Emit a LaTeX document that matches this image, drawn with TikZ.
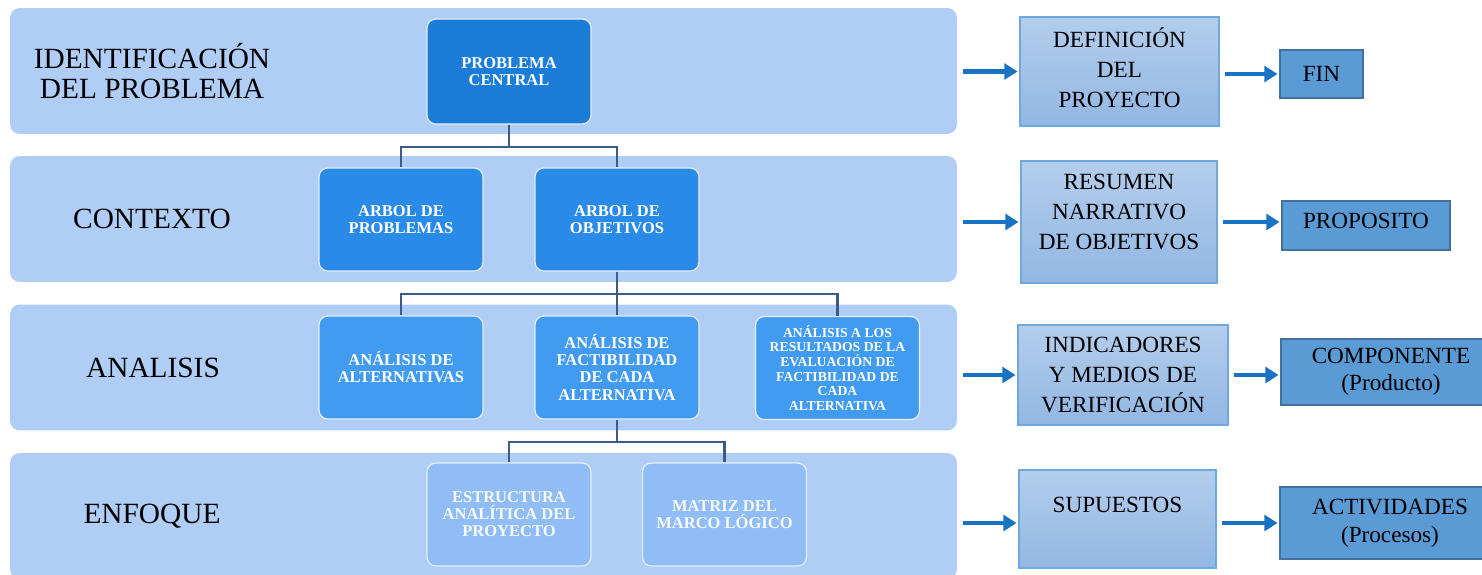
\documentclass[tikz,border=0pt]{standalone}
\usepackage{fontspec}
\setmainfont{Liberation Serif}
\usepackage{tikz}
\usetikzlibrary{arrows.meta,positioning,calc}
\definecolor{clBand}{HTML}{AFCDF5}
\definecolor{clRoot}{HTML}{1B7DD8}
\definecolor{clTree}{HTML}{2A8AE8}
\definecolor{clStudy}{HTML}{419BF0}
\definecolor{clFocus}{HTML}{90BDF5}
\definecolor{clLink}{HTML}{3C5A8A}
\definecolor{clNoteTop}{HTML}{B4CDEC}
\definecolor{clNoteBot}{HTML}{92B7E3}
\definecolor{clNoteLine}{HTML}{6FA8DC}
\definecolor{clGoal}{HTML}{5B9BD5}
\definecolor{clGoalLine}{HTML}{41719C}
\definecolor{clArrow}{HTML}{1A72C2}
\tikzset{
  band/.style={rectangle, rounded corners=5.5pt, fill=clBand, inner sep=0pt,
               minimum width=18.94cm, minimum height=2.52cm},
  bandlabel/.style={align=center, text=black, font=\fontsize{16.7}{17}\selectfont},
  box/.style={rectangle, rounded corners=5pt, draw=white!65!clBand, line width=0.7pt,
              align=center, text=white, inner sep=2pt,
              minimum width=3.28cm, minimum height=2.06cm,
              font=\bfseries\fontsize{9.4}{9.7}\selectfont},
  root/.style={box, fill=clRoot, minimum height=2.1cm},
  tree/.style={box, fill=clTree},
  study/.style={box, fill=clStudy},
  focus/.style={box, fill=clFocus, text=white!94!clFocus},
  note/.style={rectangle, draw=clNoteLine, line width=0.8pt, top color=clNoteTop,
               bottom color=clNoteBot, align=center, inner sep=2pt,
               font=\fontsize{13.2}{17}\selectfont},
  goal/.style={rectangle, draw=clGoalLine, line width=0.8pt, fill=clGoal,
               align=center, inner sep=2pt, font=\fontsize{13.2}{15.5}\selectfont},
  link/.style={line width=1.2pt, draw=clLink},
  flow/.style={-{Triangle[length=7.5pt,width=9pt]}, line width=2.3pt, draw=clArrow,
               shorten <=3pt, shorten >=1pt},
}
\begin{document}
\begin{tikzpicture}[x=0.02cm, y=-0.02cm]
  \useasboundingbox (0,0) rectangle (1482,575);
  % stages
  \node[band] (bIdent) at (483.5,71) {};
  \node[band] (bCont) at (483.5,219) {};
  \node[band] (bAnal) at (483.5,367.5) {};
  \node[band] (bEnf) at (483.5,516) {};
  \node[bandlabel] (lIdent) at (152,71) {IDENTIFICACIÓN\\DEL PROBLEMA};
  \node[bandlabel] (lCont) at (152,219) {CONTEXTO};
  \node[bandlabel] (lAnal) at (153,367.5) {ANALISIS};
  \node[bandlabel] (lEnf) at (152,516) {ENFOQUE};

  % tree
  \node[root] (pc) at (509,71.5) {PROBLEMA\\CENTRAL};
  \node[tree] (ap) at (401,219.5) {ARBOL DE\\PROBLEMAS};
  \node[tree] (ao) at (617,219.5) {ARBOL DE\\OBJETIVOS};
  \node[study] (aa) at (401,367.5) {ANÁLISIS DE\\ALTERNATIVAS};
  \node[study] (af) at (617,367.5) {ANÁLISIS DE\\FACTIBILIDAD\\DE CADA\\ALTERNATIVA};
  \node[study, font=\bfseries\fontsize{7.8}{8.3}\selectfont] (ar) at (837.5,368)
    {ANÁLISIS A LOS\\RESULTADOS DE LA\\EVALUACIÓN DE\\FACTIBILIDAD DE\\CADA\\ALTERNATIVA};
  \node[focus] (ea) at (509,514.5) {ESTRUCTURA\\ANALÍTICA DEL\\PROYECTO};
  \node[focus] (mm) at (724.5,514.5) {MATRIZ DEL\\MARCO LÓGICO};
  \draw[link] (pc.south) -- ++(0,22) -| (ap.north);
  \draw[link] (pc.south) -- ++(0,22) -| (ao.north);
  \draw[link] (ao.south) -- ++(0,22) -| (aa.north);
  \draw[link] (ao.south) -- ++(0,22) -| (af.north);
  \draw[link] (ao.south) -- ++(0,22) -| (ar.north);
  \draw[link] (af.south) -- ++(0,22) -| (ea.north);
  \draw[link] (af.south) -- ++(0,22) -| (mm.north);

  % logical frame
  \node[note, minimum width=3.98cm, minimum height=2.18cm, text depth=4.5pt] (def)
    at (1119.5,71.5) {DEFINICIÓN\\DEL\\PROYECTO};
  \node[goal, minimum width=1.66cm, minimum height=0.96cm] (fin) at (1321.5,74) {FIN};
  \node[note, minimum width=3.92cm, minimum height=2.44cm, text depth=12pt] (res)
    at (1119,222) {RESUMEN\\NARRATIVO\\DE OBJETIVOS};
  \node[goal, minimum width=3.36cm, minimum height=0.98cm, text depth=5pt] (prop)
    at (1366,225.5) {PROPOSITO};
  \node[note, minimum width=4.2cm, minimum height=2cm] (ind)
    at (1123,375) {INDICADORES\\Y MEDIOS DE\\VERIFICACIÓN};
  \node[goal, minimum width=4.4cm, minimum height=1.32cm, text depth=3pt,
        font=\fontsize{13.2}{15.3}\selectfont] (comp)
    at (1391,372) {COMPONENTE\\(Producto)};
  \node[note, minimum width=3.94cm, minimum height=1.96cm, text depth=16pt] (sup)
    at (1117.5,519) {SUPUESTOS};
  \node[goal, minimum width=4.4cm, minimum height=1.44cm,
        font=\fontsize{13.2}{15.9}\selectfont] (act)
    at (1390,523) {ACTIVIDADES\\(Procesos)};
  \draw[flow] (bIdent.east |- def.west) -- (def.west);
  \draw[flow] (def.east |- fin.west) -- (fin.west);
  \draw[flow] (bCont.east |- res.west) -- (res.west);
  \draw[flow] (res.east) -- (res.east -| prop.west);
  \draw[flow] (bAnal.east |- ind.west) -- (ind.west);
  \draw[flow] (ind.east) -- (ind.east -| comp.west);
  \draw[flow] (bEnf.east |- act.west) -- (sup.west |- act.west);
  \draw[flow] (sup.east |- act.west) -- (act.west);
\end{tikzpicture}
\end{document}
